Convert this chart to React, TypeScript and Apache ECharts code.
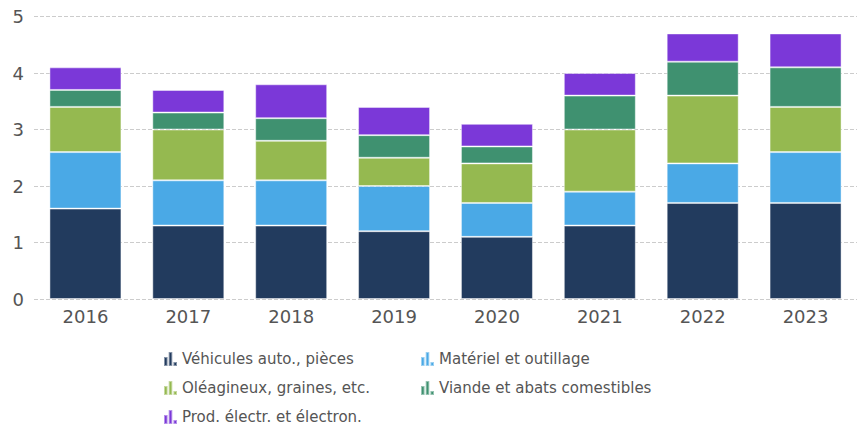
import React, { useEffect, useRef } from "react";
import * as echarts from "echarts";

const years = ["2016", "2017", "2018", "2019", "2020", "2021", "2022", "2023"];
const seriesNames = [
  "Véhicules auto., pièces",
  "Matériel et outillage",
  "Oléagineux, graines, etc.",
  "Viande et abats comestibles",
  "Prod. électr. et électron.",
];
const vehicules = [1.6, 1.3, 1.3, 1.2, 1.1, 1.3, 1.7, 1.7];
const materiel = [1.0, 0.8, 0.8, 0.8, 0.6, 0.6, 0.7, 0.9];
const oleagineux = [0.8, 0.9, 0.7, 0.5, 0.7, 1.1, 1.2, 0.8];
const viande = [0.3, 0.3, 0.4, 0.4, 0.3, 0.6, 0.6, 0.7];
const electr = [0.4, 0.4, 0.6, 0.5, 0.4, 0.4, 0.5, 0.6];
const colors = ["#223b5e", "#4aa9e6", "#95b950", "#3f9170", "#7b38d8"];
const yTicks = [0, 1, 2, 3, 4, 5];

const icon = "path://M0,5H3.6V14H0Z M4.7,0H8.3V14H4.7Z M9.4,10H13V14H9.4Z";

export default function App() {
  const ref = useRef<HTMLDivElement>(null);
  useEffect(() => {
    if (!ref.current) return;
    const chart = echarts.init(ref.current, null, { renderer: "svg" });
    const values = [vehicules, materiel, oleagineux, viande, electr];
    const textStyle = { color: "#555", fontSize: 15, fontFamily: "DejaVu Sans" };
    const legendBase = {
      top: 351,
      orient: "vertical",
      padding: 0,
      height: 76,
      itemGap: 13,
      itemWidth: 13,
      itemHeight: 14,
      icon,
      textStyle,
    };
    chart.setOption({
      animation: false,
      color: colors,
      grid: { left: 34, right: -9, top: 16.5, bottom: 128 },
      xAxis: {
        type: "category",
        data: years,
        axisLine: { show: false },
        axisTick: { show: false },
        axisLabel: { color: "#555", fontSize: 18, fontFamily: "DejaVu Sans", margin: 8 },
      },
      yAxis: {
        type: "value",
        min: yTicks[0],
        max: yTicks[yTicks.length - 1],
        interval: 1,
        axisLine: { show: false },
        axisTick: { show: false },
        axisLabel: { color: "#555", fontSize: 18, fontFamily: "DejaVu Sans", margin: 10 },
        splitLine: { lineStyle: { type: "dashed", color: "#ccc" } },
      },
      legend: [
        { ...legendBase, left: 163, data: [seriesNames[0], seriesNames[2], seriesNames[4]] },
        { ...legendBase, left: 420, data: [seriesNames[1], seriesNames[3]] },
      ],
      series: seriesNames.map((name, i) => ({
        name,
        type: "bar",
        stack: "total",
        barWidth: 72,
        data: values[i],
        itemStyle: { borderColor: "rgba(255,255,255,0.45)", borderWidth: 1 },
      })),
    });
    return () => chart.dispose();
  }, []);
  return (
    <div
      ref={ref}
      style={{ position: "fixed", left: 0, top: 0, width: 857, height: 427, background: "#fff" }}
    />
  );
}
